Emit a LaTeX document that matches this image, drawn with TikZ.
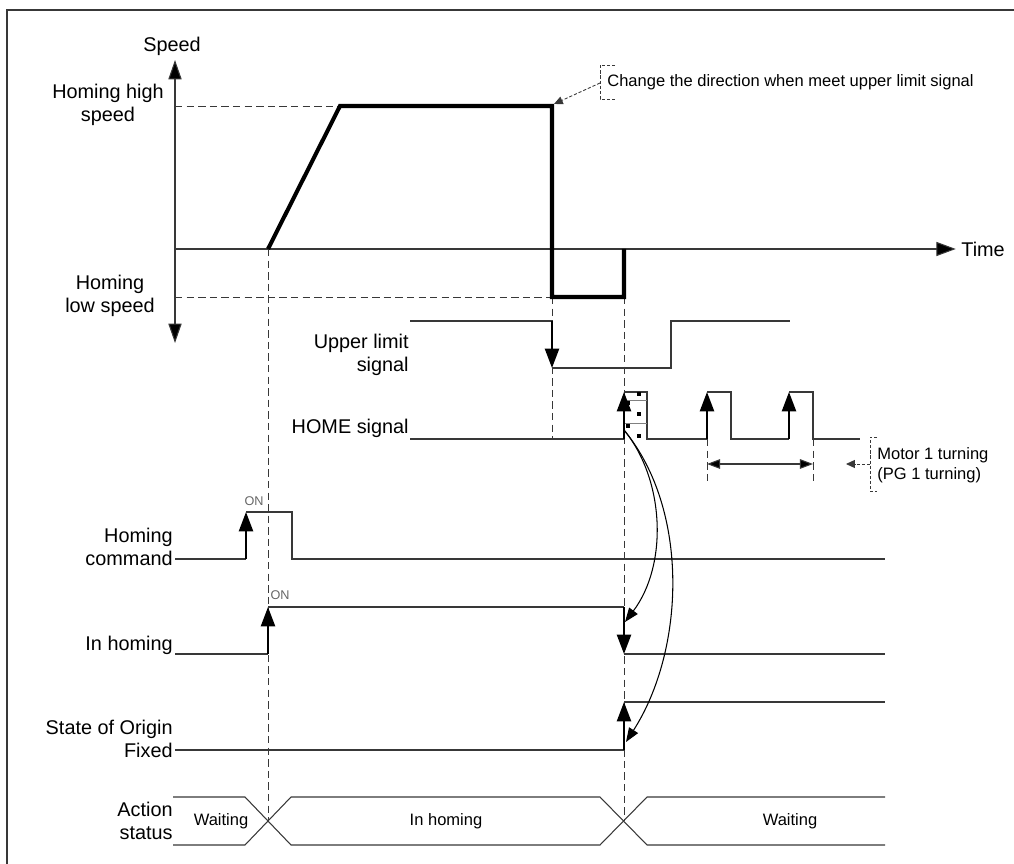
\documentclass[tikz,border=0pt]{standalone}
\usepackage{fontspec}
\setmainfont{Liberation Sans}
\usetikzlibrary{arrows.meta,positioning}
\definecolor{sigline}{HTML}{383838}
\definecolor{onlbl}{HTML}{666666}

\begin{document}
\begin{tikzpicture}[x=0.02cm,y=-0.02cm,
  sig/.style={draw=sigline,line width=0.6pt},
  prof/.style={line width=2.3pt},
  rise/.style={line width=1.2pt,-{Triangle[length=11pt,width=8pt]}},
  guide/.style={draw=sigline,line width=0.5pt,dash pattern=on 4.2pt off 2.4pt},
  lbl/.style={font=\fontsize{11.3}{13}\selectfont,inner sep=0pt},
  note/.style={font=\fontsize{9.4}{11.3}\selectfont,inner sep=0pt},
  brk/.style={draw=sigline,line width=0.5pt,dash pattern=on 1.8pt off 1.1pt},
  ptr/.style={brk,-{Triangle[length=5pt,width=4.5pt]}},
  curv/.style={line width=0.6pt,-{Triangle[length=8pt,width=6pt]}}]
\useasboundingbox (0,0) rectangle (1014,864);
\draw[sig] (7,864) |- (1014,10);

\node (speed) at (172,46) [lbl] {Speed};
\node (time) at (961,249) [lbl,anchor=west] {Time};
\node (hs) at (108,105) [lbl,align=center] {Homing high\\speed};
\node (ls) at (110,296) [lbl,align=center] {Homing\\low speed};
\node (ul) at (409,355) [lbl,align=right,anchor=east] {Upper limit\\signal};
\node (hm) at (409,428) [lbl,anchor=east] {HOME signal};
\node (hc) at (173,547) [lbl,align=right,anchor=east] {Homing\\command};
\node (ih) at (173,645) [lbl,anchor=east] {In homing};
\node (of) at (173,739) [lbl,align=right,anchor=east] {State of Origin\\Fixed};
\node (as) at (173,821) [lbl,align=right,anchor=east] {Action\\status};

\draw[sig,{Triangle[length=11pt,width=7.5pt,fill=black]}-{Triangle[length=11pt,width=7.5pt,fill=black]}] (175,343) -- (175,60);
\draw[sig,-{Triangle[length=11pt,width=8pt,fill=black]},shorten >=3pt] (175,249) -- (time.west);

\draw[guide] (175,106) -- (340,106);
\draw[guide] (175,297) -- (552,297);
\draw[guide] (268,249) -- (268,821);
\draw[guide] (552,297) -- (552,439);
\draw[guide] (624,297) -- (624,821);
\draw[guide] (707,439) -- (707,484);
\draw[guide] (813,439) -- (813,484);

\draw[prof] (268,249) -- (340,106) -- (552,106) -- (552,297) -- (624,297) -- (624,249);

\node (chg) at (607,82) [note,anchor=west] {Change the direction when meet upper limit signal};
\draw[brk] (615,65) -- (600,65) -- (600,99) -- (615,99);
\coordinate (chgb) at (600,83);
\coordinate (turn) at (554,104);
\draw[ptr] (chgb) -- (turn);

\draw[sig] (410,321) -- (552,321);
\draw[rise] (552,321) -- (552,368);
\draw[sig] (552,368) -- (671,368) -- (671,321) -- (790,321);

\draw[sig] (410,439) -- (624,439);
\draw[sig] (624,392) -- (647,392) -- (647,439) -- (707,439);
\draw[draw=gray,line width=0.5pt] (624,400) -- (647,400) (624,423) -- (647,423);
\foreach \x/\y in {628/403,628/426,639/394,639/414,639/436}
  \fill (\x-2,\y-2) rectangle (\x+2,\y+2);
\draw[rise] (624,439) -- (624,392);
\draw[rise] (707,439) -- (707,392);
\draw[sig] (707,392) -- (731,392) -- (731,439) -- (789,439);
\draw[rise] (789,439) -- (789,392);
\draw[sig] (789,392) -- (813,392) -- (813,439) -- (860,439);

\draw[sig,{Triangle[length=7.5pt,width=5.5pt,fill=black]}-{Triangle[length=7.5pt,width=5.5pt,fill=black]}] (707,464) -- (813,464);
\node (mot) at (877,465) [note,anchor=west,align=left] {Motor 1 turning\\(PG 1 turning)};
\draw[brk] (877,437) -- (870,437) -- (870,491) -- (877,491);
\coordinate (motb) at (870,464);
\coordinate (span) at (846,464);
\draw[ptr] (motb) -- (span);

\draw[sig] (175,559) -- (246,559);
\draw[rise] (246,559) -- (246,512);
\draw[sig] (246,512) -- (292,512) -- (292,559) -- (885,559);
\node (on1) at (254,501) [font=\fontsize{7.2}{8}\selectfont,text=onlbl,inner sep=0pt] {ON};

\draw[sig] (175,654) -- (268,654);
\draw[rise] (268,654) -- (268,607);
\draw[sig] (268,607) -- (624,607);
\draw[rise] (624,607) -- (624,654);
\draw[sig] (624,654) -- (885,654);
\node (on2) at (280,595) [font=\fontsize{7.2}{8}\selectfont,text=onlbl,inner sep=0pt] {ON};

\draw[sig] (175,750) -- (624,750);
\draw[rise] (624,750) -- (624,702);
\draw[sig] (624,702) -- (885,702);

\coordinate (hedge) at (624,430);
\coordinate (ihfall) at (625,622);
\coordinate (ofrise) at (626,742);
\draw[curv] (hedge) .. controls (665,480) and (668,565) .. (ihfall);
\draw[curv] (hedge) .. controls (690,510) and (685,650) .. (ofrise);

\draw[sig] (173,797) -- (245,797) -- (291,845) -- (600,845) -- (647,797) -- (885,797);
\draw[sig] (173,845) -- (245,845) -- (291,797) -- (600,797) -- (647,845) -- (885,845);
\node (w1) at (221,821) [note] {Waiting};
\node (w2) at (446,821) [note] {In homing};
\node (w3) at (790,821) [note] {Waiting};
\end{tikzpicture}
\end{document}
